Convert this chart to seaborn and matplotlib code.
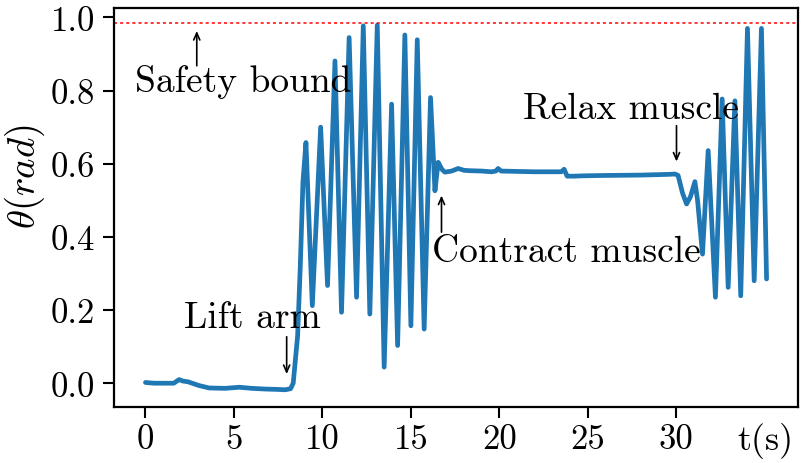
import numpy as np
import pandas as pd
import matplotlib
matplotlib.use("Agg")
import matplotlib.pyplot as plt
import seaborn as sns

# ---- data ----
t_s = [0.0, 0.5, 1.0, 1.6, 1.9, 2.1, 2.4, 3.0, 3.6, 4.5, 5.3, 6.0, 6.8, 7.5, 7.9, 8.2,
       8.35, 8.6, 8.75, 8.9, 9.07,
       9.43, 9.90, 10.29, 10.71, 11.08, 11.51, 11.93, 12.31, 12.68, 13.10, 13.49,
       13.91, 14.25, 14.66, 15.00, 15.36, 15.75, 16.11, 16.36, 16.54, 16.75, 16.92,
       17.3, 17.67, 18.0, 18.33, 19.0, 19.56, 19.8, 19.93, 20.1, 21.0, 22.0, 23.2,
       23.5, 23.66, 23.83, 24.2, 24.74, 26.0, 28.0, 29.6, 29.92, 30.1, 30.35, 30.58,
       30.8, 31.05, 31.2, 31.48, 31.8, 32.21, 32.59, 32.93, 33.31, 33.64, 34.02,
       34.40, 34.81, 35.10]
theta_rad = [0.002, 0.0, 0.0, 0.0, 0.01, 0.006, 0.004, -0.006, -0.013, -0.014, -0.011,
             -0.014, -0.016, -0.017, -0.018, -0.015,
             0.0, 0.13, 0.32, 0.55, 0.658,
             0.212, 0.70, 0.267, 0.881, 0.194, 0.945, 0.235, 0.977, 0.189, 0.979, 0.044,
             0.763, 0.103, 0.952, 0.157, 0.939, 0.148, 0.781, 0.526, 0.604, 0.585, 0.577,
             0.58, 0.587, 0.582, 0.581, 0.58, 0.578, 0.58, 0.587, 0.58, 0.579, 0.578, 0.578,
             0.578, 0.585, 0.566, 0.566, 0.567, 0.568, 0.569, 0.571, 0.572, 0.568, 0.52, 0.49,
             0.51, 0.551, 0.50, 0.353, 0.636, 0.235, 0.777, 0.262, 0.772, 0.239, 0.97,
             0.28, 0.97, 0.285]

safety_bound = 0.985
x_ticks = [0, 5, 10, 15, 20, 25, 30]
y_ticks = [0.0, 0.2, 0.4, 0.6, 0.8, 1.0]
annotations = ["Safety bound", "Lift arm", "Contract muscle", "Relax muscle"]

df = pd.DataFrame({"t": t_s, "theta": theta_rad})

sns.set_style("ticks")
plt.rcParams["font.family"] = ["cmr10", "DejaVu Serif"]
plt.rcParams["mathtext.fontset"] = "cm"
plt.rcParams["axes.formatter.use_mathtext"] = True
plt.rcParams["axes.unicode_minus"] = False
plt.rcParams["text.color"] = "black"
plt.rcParams["axes.labelcolor"] = "black"

fig = plt.figure(figsize=(8.01, 4.64), dpi=100)
ax = fig.add_axes([0.1427, 0.1207, 0.8532, 0.8593])

sns.lineplot(data=df, x="t", y="theta", ax=ax, color="#1f77b4", linewidth=3.4,
             estimator=None, sort=False)
for l in ax.get_lines():
    l.set_solid_joinstyle("round")
    l.set_solid_capstyle("round")

ax.axhline(safety_bound, color="red", linestyle=(0, (2, 2)), linewidth=1.1)

ax.set_xlim(-1.76, 36.86)
ax.set_ylim(-0.065, 1.025)
ax.set_xticks(x_ticks)
ax.set_xticklabels([str(v) for v in x_ticks])
ax.set_yticks(y_ticks)
ax.set_yticklabels([f"{v:.1f}" for v in y_ticks])
ax.tick_params(axis="both", labelsize=25, length=8, width=1.5, color="black",
               labelcolor="black")
ax.tick_params(axis="y", pad=6)
for s in ax.spines.values():
    s.set_linewidth(1.6)
    s.set_color("black")

ax.set_xlabel("")
ax.set_ylabel(r"$\theta(rad)$", fontsize=28)
ax.yaxis.set_label_coords(-0.099, 0.58)

# "t(s)" in place of the last tick label
ax.text(35.06, -0.105, "t(s)", fontsize=26, ha="center", va="top",
        transform=ax.transData, clip_on=False)

arrow = dict(arrowstyle="->,head_length=0.5,head_width=0.22", color="black", lw=1.2,
             shrinkA=0, shrinkB=0)
fs = 27
ax.annotate("", xy=(2.9, 0.963), xytext=(2.9, 0.868), arrowprops=arrow)
ax.text(5.5, 0.80, annotations[0], fontsize=fs, ha="center", va="baseline")
ax.annotate("", xy=(7.98, 0.025), xytext=(7.98, 0.127), arrowprops=arrow)
ax.text(6.05, 0.154, annotations[1], fontsize=fs, ha="center", va="baseline")
ax.annotate("", xy=(16.73, 0.513), xytext=(16.73, 0.413), arrowprops=arrow)
ax.text(23.8, 0.335, annotations[2], fontsize=fs, ha="center", va="baseline")
ax.annotate("", xy=(30.01, 0.606), xytext=(30.01, 0.704), arrowprops=arrow)
ax.text(27.45, 0.725, annotations[3], fontsize=fs, ha="center", va="baseline")

fig.savefig("out.png", dpi=100)
